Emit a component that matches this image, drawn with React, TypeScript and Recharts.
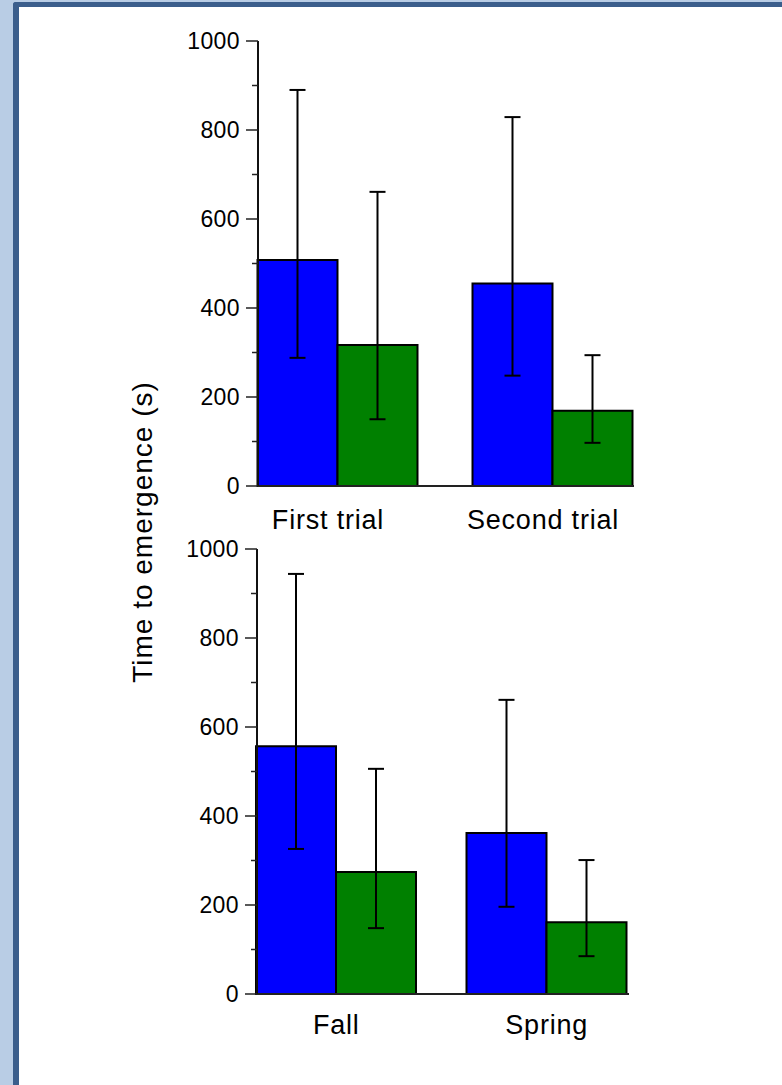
import { Bar, BarChart, ErrorBar, XAxis, YAxis } from "recharts";

// top panel
const trialNames = ["First trial", "Second trial"];
const trialBlue = [508, 455];
const trialBlueLow = [288, 248];
const trialBlueHigh = [890, 829];
const trialGreen = [317, 169];
const trialGreenLow = [150, 97];
const trialGreenHigh = [661, 294];

// bottom panel
const seasonNames = ["Fall", "Spring"];
const seasonBlue = [557, 362];
const seasonBlueLow = [326, 196];
const seasonBlueHigh = [944, 661];
const seasonGreen = [274, 161];
const seasonGreenLow = [148, 85];
const seasonGreenHigh = [506, 301];

const yTicks = [0, 100, 200, 300, 400, 500, 600, 700, 800, 900, 1000];

const FONT = "'Liberation Sans', Arial, Helvetica, sans-serif";

const buildRows = (
  names: string[],
  blue: number[],
  blueLow: number[],
  blueHigh: number[],
  green: number[],
  greenLow: number[],
  greenHigh: number[]
) =>
  names.map((name, i) => ({
    name,
    blue: blue[i],
    green: green[i],
    blueErr: [blue[i] - blueLow[i], blueHigh[i] - blue[i]],
    greenErr: [green[i] - greenLow[i], greenHigh[i] - green[i]],
  }));

const YTick = (props: any) => {
  const { x, y, payload } = props;
  const major = payload.value % 200 === 0;
  return (
    <g>
      <line
        x1={x - (major ? 12 : 6)}
        x2={x}
        y1={y}
        y2={y}
        stroke="#222"
        strokeWidth={1.5}
      />
      {major && (
        <text
          x={x - 18}
          y={y}
          dy="0.36em"
          textAnchor="end"
          fontFamily={FONT}
          fontSize={23}
          letterSpacing={0.4}
          fill="#000"
        >
          {payload.value}
        </text>
      )}
    </g>
  );
};

const makeXTick = (dx: number, dy: number) => (props: any) => {
  const { x, y, payload } = props;
  return (
    <text
      x={x + dx}
      y={y + dy}
      textAnchor="middle"
      fontFamily={FONT}
      fontSize={27}
      letterSpacing={0.8}
      fill="#000"
    >
      {payload.value}
    </text>
  );
};

type PanelProps = {
  rows: any[];
  top: number;
  axisLeft: number;
  right: number;
  pad: { left: number; right: number };
  labelDx: number;
  labelDy: number;
};

const Panel = ({ rows, top, axisLeft, right, pad, labelDx, labelDy }: PanelProps) => (
  <div style={{ position: "absolute", left: 0, top }}>
    <BarChart
      width={782}
      height={545}
      data={rows}
      barGap={0}
      barSize={80}
      margin={{ top: 41, right, bottom: 0, left: 0 }}
    >
      <XAxis
        dataKey="name"
        height={59}
        padding={pad}
        axisLine={{ stroke: "#222", strokeWidth: 2 }}
        tickLine={false}
        tickSize={0}
        tickMargin={0}
        interval={0}
        tick={makeXTick(labelDx, labelDy)}
      />
      <YAxis
        width={axisLeft}
        domain={[0, 1000]}
        ticks={yTicks}
        interval={0}
        axisLine={{ stroke: "#111", strokeWidth: 2 }}
        tickLine={false}
        tickSize={0}
        tickMargin={0}
        tick={<YTick />}
      />
      <Bar
        dataKey="blue"
        fill="#0000ff"
        stroke="#000"
        strokeWidth={2}
        isAnimationActive={false}
      >
        <ErrorBar dataKey="blueErr" width={8} stroke="#000" strokeWidth={2} />
      </Bar>
      <Bar
        dataKey="green"
        fill="#008000"
        stroke="#000"
        strokeWidth={2}
        isAnimationActive={false}
      >
        <ErrorBar dataKey="greenErr" width={8} stroke="#000" strokeWidth={2} />
      </Bar>
    </BarChart>
  </div>
);

export default function App() {
  const trialRows = buildRows(
    trialNames,
    trialBlue,
    trialBlueLow,
    trialBlueHigh,
    trialGreen,
    trialGreenLow,
    trialGreenHigh
  );
  const seasonRows = buildRows(
    seasonNames,
    seasonBlue,
    seasonBlueLow,
    seasonBlueHigh,
    seasonGreen,
    seasonGreenLow,
    seasonGreenHigh
  );

  return (
    <div
      style={{
        position: "absolute",
        left: 0,
        top: 0,
        width: 782,
        height: 1085,
        background: "#b9cde5",
        overflow: "hidden",
      }}
    >
      <div
        style={{
          position: "absolute",
          left: 13,
          top: 2,
          right: 0,
          bottom: 0,
          background: "#fff",
          borderLeft: "6px solid #3b5e8c",
          borderTop: "5px solid #3b5e8c",
          borderTopLeftRadius: 3,
        }}
      />
      <Panel
        rows={trialRows}
        top={0}
        axisLeft={258}
        right={148}
        pad={{ left: -28.5, right: -25.5 }}
        labelDx={-9}
        labelDy={43}
      />
      <Panel
        rows={seasonRows}
        top={508}
        axisLeft={257}
        right={153}
        pad={{ left: -26, right: -23 }}
        labelDx={0}
        labelDy={40}
      />
      <svg
        width={782}
        height={1085}
        style={{ position: "absolute", left: 0, top: 0, pointerEvents: "none" }}
      >
        <text
          transform="translate(152, 532) rotate(-90)"
          textAnchor="middle"
          fontFamily={FONT}
          fontSize={28}
          letterSpacing={1}
          fill="#000"
        >
          Time to emergence (s)
        </text>
      </svg>
    </div>
  );
}
